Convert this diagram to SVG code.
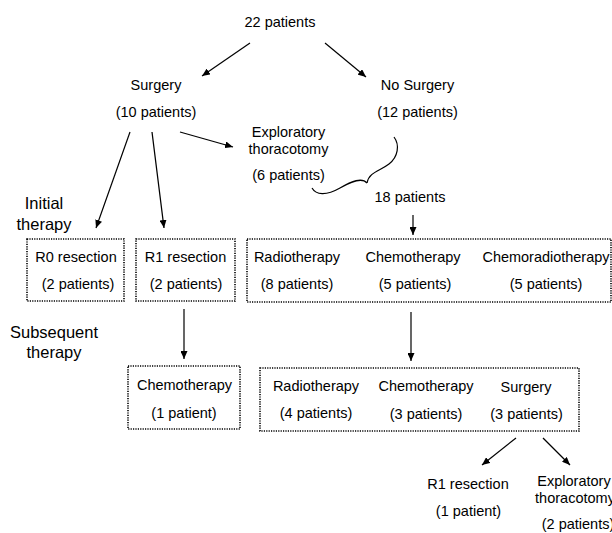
<svg xmlns="http://www.w3.org/2000/svg" width="612" height="533" viewBox="0 0 612 533">
<style>
text{font-family:"Liberation Sans",Arial,sans-serif;font-size:14.5px;fill:#000;text-anchor:middle}
.lab{font-size:16.5px}
.box{fill:none;stroke:#000;stroke-width:1.6;stroke-dasharray:1.2 1.2}
.ln{fill:none;stroke:#000;stroke-width:1.2}
</style>
<defs>
<marker id="ah" markerUnits="userSpaceOnUse" markerWidth="9" markerHeight="7" refX="8" refY="3.5" orient="auto">
<path d="M0,0 L8,3.5 L0,7 z" fill="#000"/>
</marker>
</defs>
<rect width="612" height="533" fill="#fff"/>
<g id="connectors">
<line class="ln" x1="250" y1="43" x2="202" y2="76" marker-end="url(#ah)"/>
<line class="ln" x1="325" y1="43" x2="366" y2="77" marker-end="url(#ah)"/>
<line class="ln" x1="130" y1="132" x2="96" y2="228" marker-end="url(#ah)"/>
<line class="ln" x1="152" y1="132" x2="164" y2="228" marker-end="url(#ah)"/>
<line class="ln" x1="180" y1="132" x2="233" y2="147" marker-end="url(#ah)"/>
<path class="ln" d="M312 188 C316 195 326 196 340 188 C352 181 362 177 367 183"/>
<path class="ln" d="M367 183 C369 172 380 171 389 164 C398 157 400 145 394 137"/>
<line class="ln" x1="413" y1="215" x2="413" y2="235" marker-end="url(#ah)"/>
<line class="ln" x1="184" y1="309" x2="184" y2="359" marker-end="url(#ah)"/>
<line class="ln" x1="411" y1="312" x2="411" y2="361" marker-end="url(#ah)"/>
<line class="ln" x1="516" y1="438" x2="482" y2="465" marker-end="url(#ah)"/>
<line class="ln" x1="543" y1="438" x2="570" y2="465" marker-end="url(#ah)"/>
</g>
<g id="n-total"><text x="280" y="27">22 patients</text></g>
<g id="n-surgery"><text x="156" y="90">Surgery</text><text x="156" y="117">(10 patients)</text></g>
<g id="n-nosurgery"><text x="417.5" y="90">No Surgery</text><text x="417.5" y="117">(12 patients)</text></g>
<g id="n-explor1"><text x="288.5" y="137">Exploratory</text><text x="288.5" y="154">thoracotomy</text><text x="288.5" y="180">(6 patients)</text></g>
<g id="n-18"><text x="410" y="202">18 patients</text></g>
<g id="l-initial"><text class="lab" x="44" y="209">Initial</text><text class="lab" x="44" y="230">therapy</text></g>
<g id="l-subsequent"><text class="lab" x="54" y="338">Subsequent</text><text class="lab" x="54" y="358">therapy</text></g>
<g id="n-r0"><rect class="box" x="27" y="239" width="97" height="62"/><text x="76" y="262">R0 resection</text><text x="78" y="289">(2 patients)</text></g>
<g id="n-r1"><rect class="box" x="136" y="239" width="99" height="62"/><text x="185.5" y="262">R1 resection</text><text x="186" y="289">(2 patients)</text></g>
<g id="n-nonsurg"><rect class="box" x="247" y="239" width="364" height="63"/>
<text x="297" y="262">Radiotherapy</text><text x="297" y="289">(8 patients)</text>
<text x="413" y="262">Chemotherapy</text><text x="415" y="289">(5 patients)</text>
<text x="546" y="262" textLength="127" lengthAdjust="spacingAndGlyphs">Chemoradiotherapy</text><text x="546" y="289">(5 patients)</text></g>
<g id="n-chemo1"><rect class="box" x="128" y="366" width="112" height="63"/><text x="184.5" y="390">Chemotherapy</text><text x="184" y="418">(1 patient)</text></g>
<g id="n-subs"><rect class="box" x="260" y="368" width="319" height="63"/>
<text x="316" y="391">Radiotherapy</text><text x="316" y="418">(4 patients)</text>
<text x="426" y="391">Chemotherapy</text><text x="426" y="419">(3 patients)</text>
<text x="526" y="392">Surgery</text><text x="526.5" y="419">(3 patients)</text></g>
<g id="n-r1b"><text x="468" y="489">R1 resection</text><text x="468.5" y="516">(1 patient)</text></g>
<g id="n-explor2"><text x="574" y="486">Exploratory</text><text x="575" y="503">thoracotomy</text><text x="578" y="529">(2 patients)</text></g>
</svg>
